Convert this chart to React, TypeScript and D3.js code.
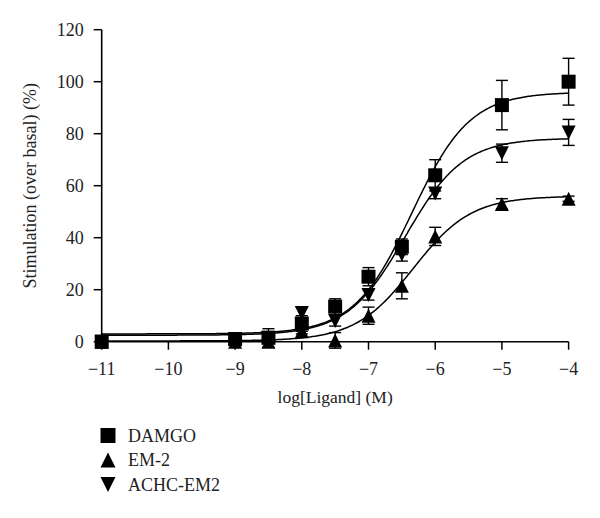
import React from "react";
import * as d3 from "d3";

const logDose = [-11, -9, -8.5, -8, -7.5, -7, -6.5, -6, -5, -4];
const damgo = [0, 1, 1.5, 7, 13.5, 25, 36.5, 64, 91, 100];
const damgoErr = [0, 0, 3.5, 3, 3, 3.5, 3, 6, 9.5, 9];
const em2 = [0, 0, 0, 4, 0.5, 10, 21.5, 40.5, 53, 55];
const em2Err = [0, 0, 0, 1, 3, 3.3, 5, 3.5, 2, 1];
const achc = [0, 1, 1.5, 11, 8, 18, 33.5, 57, 72.5, 80.5];
const achcErr = [0, 1.5, 1, 2, 2, 2, 2.5, 2, 3.5, 5];

// sigmoidal fit parameters: bottom, top, logEC50, hill
const damgoFit = [3, 96, -6.35, 1];
const em2Fit = [0.3, 56, -6.33, 1];
const achcFit = [2.5, 78.3, -6.45, 1];

const xTicks = [-11, -10, -9, -8, -7, -6, -5, -4];
const yTicks = [0, 20, 40, 60, 80, 100, 120];
const seriesNames = ["DAMGO", "EM-2", "ACHC-EM2"];

const FONT = "'Liberation Serif', 'Times New Roman', serif";

function markerPath(kind: string, cx: number, cy: number, s: number) {
  if (kind === "square") return `M${cx - s},${cy - s}H${cx + s}V${cy + s}H${cx - s}Z`;
  if (kind === "up") return `M${cx},${cy - s}L${cx + s},${cy + s}L${cx - s},${cy + s}Z`;
  return `M${cx - s},${cy - s}L${cx + s},${cy - s}L${cx},${cy + s}Z`;
}

export default function App() {
  const x = d3.scaleLinear().domain([-11, -4]).range([101.7, 568.6]);
  const y = d3.scaleLinear().domain([0, 120]).range([341.7, 29.7]);

  const series = [
    { name: seriesNames[0], vals: damgo, err: damgoErr, fit: damgoFit, kind: "square" },
    { name: seriesNames[1], vals: em2, err: em2Err, fit: em2Fit, kind: "up" },
    { name: seriesNames[2], vals: achc, err: achcErr, fit: achcFit, kind: "down" },
  ];

  const grid = d3.range(-11, -3.99, 0.02);
  const line = d3
    .line<number[]>()
    .x((d) => x(d[0]))
    .y((d) => y(d[1]));
  const fitVal = (f: number[], v: number) => f[0] + (f[1] - f[0]) / (1 + Math.pow(10, (f[2] - v) * f[3]));

  return (
    <svg
      width={600}
      height={518}
      style={{ position: "absolute", left: 0, top: 0, background: "#fff" }}
      fontFamily={FONT}
    >
      {/* axes */}
      <line x1={x(-11)} x2={x(-11)} y1={y(120)} y2={y(0)} stroke="#000" strokeWidth={1.6} />
      <line x1={x(-11)} x2={x(-4)} y1={y(0)} y2={y(0)} stroke="#000" strokeWidth={1.6} />
      {yTicks.map((t) => (
        <g key={"y" + t}>
          <line x1={x(-11) - 8} x2={x(-11)} y1={y(t)} y2={y(t)} stroke="#000" strokeWidth={1.5} />
          <text x={x(-11) - 18} y={y(t)} dy="0.34em" textAnchor="end" fontSize={18} fill="#222">
            {t}
          </text>
        </g>
      ))}
      {xTicks.map((t) => (
        <g key={"x" + t}>
          <line x1={x(t)} x2={x(t)} y1={y(0)} y2={y(0) + 8} stroke="#000" strokeWidth={1.5} />
          <text x={x(t)} y={y(0) + 33} textAnchor="middle" fontSize={18} fill="#222">
            {"\u2212" + Math.abs(t)}
          </text>
        </g>
      ))}
      <text
        transform={`translate(30,${(y(0) + y(120)) / 2}) rotate(-90)`}
        textAnchor="middle"
        dy="0.34em"
        fontSize={18}
        fill="#222"
      >
        Stimulation (over basal) (%)
      </text>
      <text x={(x(-11) + x(-4)) / 2} y={403} textAnchor="middle" fontSize={17.5} fill="#222">
        log[Ligand] (M)
      </text>

      {/* fit curves */}
      {series.map((s) => (
        <path
          key={"c" + s.name}
          d={line(grid.map((v) => [v, fitVal(s.fit, v)])) || ""}
          fill="none"
          stroke="#000"
          strokeWidth={1.5}
        />
      ))}

      {/* error bars */}
      {series.map((s) =>
        s.vals.map((v, i) =>
          s.err[i] > 0 ? (
            <g key={"e" + s.name + i} stroke="#000" strokeWidth={1.4}>
              <line x1={x(logDose[i])} x2={x(logDose[i])} y1={y(v + s.err[i])} y2={y(v - s.err[i])} />
              <line x1={x(logDose[i]) - 6} x2={x(logDose[i]) + 6} y1={y(v + s.err[i])} y2={y(v + s.err[i])} />
              <line x1={x(logDose[i]) - 6} x2={x(logDose[i]) + 6} y1={y(v - s.err[i])} y2={y(v - s.err[i])} />
            </g>
          ) : null
        )
      )}

      {/* markers */}
      {series.map((s) =>
        s.vals.map((v, i) => (
          <path key={"m" + s.name + i} d={markerPath(s.kind, x(logDose[i]), y(v), 7)} fill="#000" />
        ))
      )}

      {/* legend */}
      {series.map((s, i) => (
        <g key={"l" + s.name}>
          <path d={markerPath(s.kind, 108, 435.5 + i * 24.5, 7.5)} fill="#000" />
          <text x={128} y={441.5 + i * 24.5} fontSize={18} fill="#222">
            {s.name}
          </text>
        </g>
      ))}
    </svg>
  );
}
